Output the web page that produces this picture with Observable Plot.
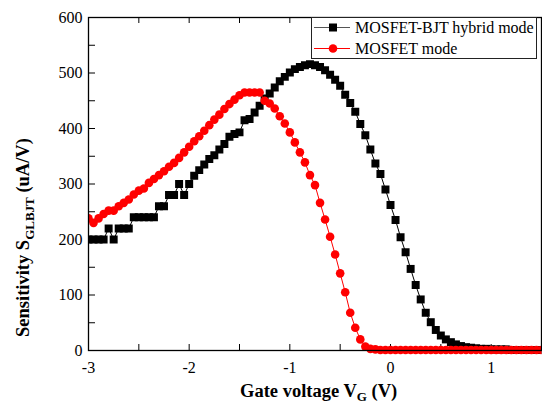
<!DOCTYPE html>
<html><head><meta charset="utf-8">
<script src="https://cdn.jsdelivr.net/npm/d3@7"></script>
<script src="https://cdn.jsdelivr.net/npm/@observablehq/plot@0.6"></script>
<style>html,body{margin:0;padding:0;background:#fff}svg{display:block}</style>
</head><body><div id="chart"></div>
<script>
// Gate voltage samples (V)
const gateVoltage = [
-3.00,-2.95,-2.90,-2.85,-2.80,-2.75,-2.70,-2.65,-2.60,-2.55,
-2.50,-2.45,-2.40,-2.35,-2.30,-2.25,-2.20,-2.15,-2.10,-2.05,
-2.00,-1.95,-1.90,-1.85,-1.80,-1.75,-1.70,-1.65,-1.60,-1.55,
-1.50,-1.45,-1.40,-1.35,-1.30,-1.25,-1.20,-1.15,-1.10,-1.05,
-1.00,-0.95,-0.90,-0.85,-0.80,-0.75,-0.70,-0.65,-0.60,-0.55,
-0.50,-0.45,-0.40,-0.35,-0.30,-0.25,-0.20,-0.15,-0.10,-0.05,
0.00,0.05,0.10,0.15,0.20,0.25,0.30,0.35,0.40,0.45,
0.50,0.55,0.60,0.65,0.70,0.75,0.80,0.85,0.90,0.95,
1.00,1.05,1.10,1.15,1.20,1.25,1.30,1.35,1.40,1.45,1.50];

// Sensitivity (uA/V), MOSFET-BJT hybrid mode
const hybridMode = [
200,200,200,200,220,200,220,220,220,240,
240,240,240,240,260,260,280,280,300,280,
300,315,325,335,345,352,362,372,385,390,
393,415,417,429,441,454,463,474,485,493,
501,507,511,514,516,514,511,505,497,488,
477,461,446,430,408,388,362,337,318,290,
262,235,204,177,147,118,92,68,51,37,
27,20,15,11,8,6,5,4,3,3,
2,2,2,2,1,1,1,1,1,1,1];

// Sensitivity (uA/V), MOSFET mode
const mosfetMode = [
238,230,238,246,252,252,260,266,272,281,
288,292,302,309,316,323,331,338,347,357,
367,377,386,396,406,416,425,435,444,452,
460,465,465,465,465,450,445,436,422,409,
393,375,357,339,316,298,266,236,205,173,
139,105,68,41,20,7,3,2,1,1,
1,1,1,1,1,1,1,1,1,1,
1,1,1,1,1,1,1,1,1,1,
1,1,1,1,1,1,1,1,1,1,1];

const seriesNames = ["MOSFET-BJT hybrid mode", "MOSFET mode"];
const xTickValues = [-3, -2, -1, 0, 1];
const xTickLabels = ["-3", "-2", "-1", "0", "1"];
const xMinorTicks = [-3, -2.5, -2, -1.5, -1, -0.5, 0, 0.5, 1, 1.5];
const yTickValues = [0, 100, 200, 300, 400, 500, 600];
const yMinorTicks = [0, 50, 100, 150, 200, 250, 300, 350, 400, 450, 500, 550, 600];

const hybridData = gateVoltage.map((v, i) => ({v, s: hybridMode[i]}));
const mosfetData = gateVoltage.map((v, i) => ({v, s: mosfetMode[i]}));

const W = 542, H = 405;
const mL = 88, mR = 1, mT = 17, mB = 55;
const innerW = W - mL - mR, innerH = H - mT - mB;
const font = "'Liberation Serif', 'Times New Roman', serif";

const svgEl = Plot.plot({
  width: W, height: H,
  marginLeft: mL, marginRight: mR, marginTop: mT, marginBottom: mB,
  style: {fontFamily: font, fontSize: "16px", color: "#000", background: "#fff", overflow: "visible"},
  x: {domain: [-3, 1.5]},
  y: {domain: [0, 600]},
  marks: [
    Plot.axisX({ticks: xTickValues, tickSize: 0, tickPadding: 11, label: null, fontSize: 16,
      tickFormat: d => xTickLabels[xTickValues.indexOf(d)]}),
    Plot.axisY({ticks: yTickValues, tickSize: 0, tickPadding: 6, label: null, fontSize: 16,
      tickFormat: d => String(d)}),
    // inward ticks
    Plot.ruleX(xMinorTicks, {x: d => d, insetTop: innerH - 6, stroke: "#000", strokeWidth: 1}),
    Plot.ruleX(xMinorTicks, {x: d => d, insetBottom: innerH - 6, stroke: "#000", strokeWidth: 1}),
    Plot.ruleY(yMinorTicks, {y: d => d, insetRight: innerW - 7, stroke: "#000", strokeWidth: 1}),
    Plot.line(hybridData, {x: "v", y: "s", stroke: "#000", strokeWidth: 1}),
    Plot.dot(hybridData, {x: "v", y: "s", symbol: "square", r: 4.5, fill: "#000", stroke: "none"}),
    Plot.line(mosfetData, {x: "v", y: "s", stroke: "#ff0000", strokeWidth: 1}),
    Plot.dot(mosfetData, {x: "v", y: "s", symbol: "circle", r: 4.3, fill: "#ff0000", stroke: "none"}),
    Plot.frame({stroke: "#000", strokeWidth: 1.3})
  ]
});

const svg = d3.select(svgEl);
// clip data marks at the left/right of the frame
svg.append("defs").append("clipPath").attr("id", "plotclip")
  .append("rect").attr("x", mL).attr("y", 0).attr("width", innerW).attr("height", H);
svg.selectAll('g[aria-label="dot"], g[aria-label="line"]').attr("clip-path", "url(#plotclip)");

// legend
const lg = svg.append("g").attr("font-family", font).attr("font-size", 16).attr("text-anchor", "start");
lg.append("rect").attr("x", 311.5).attr("y", 17.5).attr("width", 225).attr("height", 41)
  .attr("fill", "#fff").attr("stroke", "#222").attr("stroke-width", 1);
const legendRows = [
  {name: seriesNames[0], color: "#000", line: "#555", sym: "square", y: 27.5},
  {name: seriesNames[1], color: "#ff0000", line: "#ff0000", sym: "circle", y: 48.5}
];
legendRows.forEach(r => {
  lg.append("line").attr("x1", 314).attr("x2", 350).attr("y1", r.y).attr("y2", r.y)
    .attr("stroke", r.line).attr("stroke-width", 1);
  if (r.sym === "square") {
    lg.append("rect").attr("x", 329).attr("y", r.y - 4).attr("width", 8).attr("height", 8).attr("fill", r.color);
  } else {
    lg.append("circle").attr("cx", 333).attr("cy", r.y).attr("r", 4.3).attr("fill", r.color);
  }
  lg.append("text").attr("x", 355).attr("y", r.y + 5.5).attr("fill", "#000")
    .attr("text-anchor", "start").text(r.name);
});

// axis titles
const xt = svg.append("text").attr("x", 240).attr("y", 397).attr("font-family", font)
  .attr("text-anchor", "start")
  .attr("font-size", 18.5).attr("font-weight", "bold").attr("fill", "#000");
xt.append("tspan").text("Gate voltage V");
xt.append("tspan").attr("font-size", 13).attr("dy", 4).text("G");
xt.append("tspan").attr("dy", -4).text(" (V)");

const yt = svg.append("text").attr("transform", "translate(29,337) rotate(-90)").attr("font-family", font)
  .attr("text-anchor", "start")
  .attr("font-size", 18.5).attr("font-weight", "bold").attr("fill", "#000");
yt.append("tspan").text("Sensitivity S");
yt.append("tspan").attr("font-size", 13).attr("dy", 5).text("GLBJT");
yt.append("tspan").attr("dy", -5).text(" (uA/V)");

document.getElementById("chart").appendChild(svgEl);
</script>
</body></html>
